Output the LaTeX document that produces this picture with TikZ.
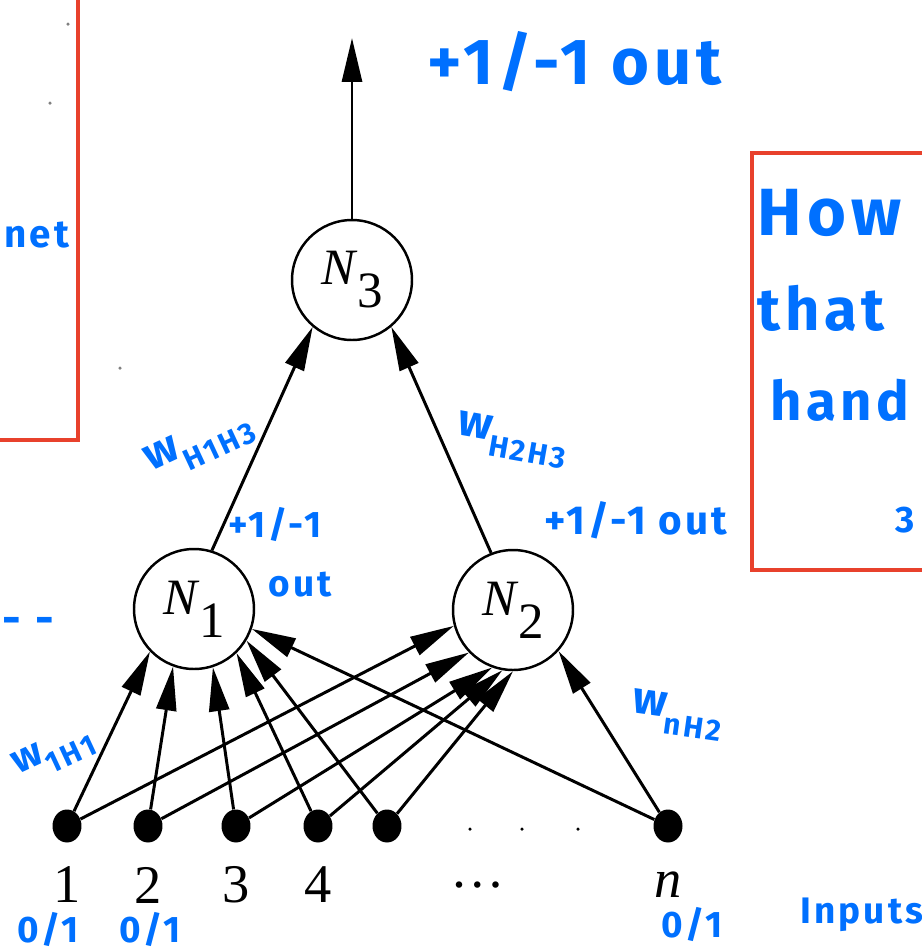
\documentclass[tikz,border=0pt]{standalone}
\usepackage{fontspec}
\setmainfont{Liberation Serif}
\newfontfamily\hand[LetterSpace=8]{Fira Sans}
\usetikzlibrary{arrows.meta,shapes.geometric}
\definecolor{hblue}{RGB}{0,112,255}
\definecolor{boxred}{RGB}{232,65,44}
\tikzset{
  neuron/.style={circle,draw,line width=1.4pt,minimum size=2.4cm,inner sep=0pt,font=\fontsize{29}{30}\selectfont},
  inp/.style={ellipse,fill=black,minimum width=0.58cm,minimum height=0.66cm,inner sep=0pt},
  conn/.style={line width=1.7pt,-{Triangle[length=0.88cm,width=0.4cm]}},
  num/.style={font=\fontsize{31}{32}\selectfont,inner sep=0pt},
  hw/.style={text=hblue,inner sep=0pt,font=\hand\bfseries\fontsize{26}{28}\selectfont},
  hws/.style={hw,font=\hand\bfseries\fontsize{21}{22}\selectfont},
  redbox/.style={draw=boxred,line width=2.4pt},
  speck/.style={fill=gray,circle,inner sep=0pt,minimum size=0.07cm}
}
\newcommand{\sub}[1]{\raisebox{-0.35em}{\fontsize{17}{18}\selectfont #1}}
\begin{document}
\begin{tikzpicture}[x=0.02cm,y=-0.02cm]
\useasboundingbox (0,0) rectangle (922,951);
% red boxes
\draw[redbox] (-20,-20) rectangle (78,440);
\draw[redbox] (752,153) rectangle (940,570);
% specks
\node[speck] (s1) at (68,24) {};
\node[speck] (s2) at (50,103) {};
\node[speck] (s3) at (120,368) {};
% neurons
\node[neuron] (N3) at (352,280) {\textit{N}\raisebox{-0.45em}{3}};
\node[neuron] (N1) at (194,609) {\textit{N}\raisebox{-0.45em}{1}};
\node[neuron] (N2) at (513,610) {\textit{N}\raisebox{-0.45em}{2}};
% inputs
\node[inp] (i1) at (67,826) {};
\node[inp] (i2) at (148,826) {};
\node[inp] (i3) at (236,826) {};
\node[inp] (i4) at (318,826) {};
\node[inp] (i5) at (387,826) {};
\node[inp] (in) at (668,826) {};
\foreach \x/\k in {470/a,522/b,578/c}{\node[fill=black,circle,inner sep=0pt,minimum size=0.07cm] (d\k) at (\x,829) {};}
% numbers
\node[num] (l1) at (67,885) {1};
\node[num] (l2) at (148,885) {2};
\node[num] (l3) at (236,885) {3};
\node[num] (l4) at (318,885) {4};
\node[num] (ld) at (478,885) {\dots};
\node[num] (ln) at (668,885) {\textit{n}};
% connections into N1
\draw[conn] (i1) -- (N1.224);
\draw[conn] (i2) -- (N1.250);
\draw[conn] (i3) -- (N1.288);
\draw[conn] (i4) -- (N1.314);
\draw[conn] (i5) -- (N1.329);
\draw[conn] (in) -- (N1.341);
% connections into N2
\draw[conn] (i1) -- (N2.195);
\draw[conn] (i2) -- (N2.224);
\draw[conn] (i3) -- (N2.250);
\draw[conn] (i4) -- (N2.260);
\draw[conn] (i5) -- (N2.270);
\draw[conn] (in) -- (N2.318);
% hidden to output
\draw[conn] (N1.73) -- (N3.230);
\draw[conn] (N2.111) -- (N3.310);
\coordinate (out) at (352,38);
\draw[conn] (N3.north) -- (out);
% handwriting
\node[hw,font=\hand\bfseries\fontsize{37}{38}\selectfont] (t1) at (575,62) {+1/-1 out};
\node[hw,rotate=25] (t2) at (200,445) {w\sub{H1H3}};
\node[hw,rotate=-10] (t3) at (512,440) {w\sub{H2H3}};
\node[hws] (t4) at (275,525) {+1/-1};
\node[hws] (t5) at (300,585) {out};
\node[hws,font=\hand\bfseries\fontsize{23}{24}\selectfont] (t6) at (636,520) {+1/-1 out};
\node[hw,rotate=25,font=\hand\bfseries\fontsize{23}{24}\selectfont] (t7) at (54,754) {w\sub{1H1}};
\node[hw,rotate=-8] (t8) at (677,715) {w\sub{nH2}};
\node[hws] (z1) at (48,930) {0/1};
\node[hws] (z2) at (150,930) {0/1};
\node[hws] (z3) at (692,925) {0/1};
\node[hws] (ip) at (862,915) {Inputs};
\node[hw,anchor=west] (dd) at (2,626) {- -};
\node[hw,anchor=west,font=\hand\bfseries\fontsize{22}{24}\selectfont] (net) at (4,235) {net};
\node[hw,font=\hand\bfseries\fontsize{38}{40}\selectfont,anchor=west] (h1) at (757,213) {How};
\node[hw,font=\hand\bfseries\fontsize{34}{36}\selectfont,anchor=west] (h2) at (757,308) {that};
\node[hw,font=\hand\bfseries\fontsize{31}{32}\selectfont,anchor=west] (h3) at (770,400) {hand};
\node[hws] (h4) at (905,520) {3};
\end{tikzpicture}
\end{document}
